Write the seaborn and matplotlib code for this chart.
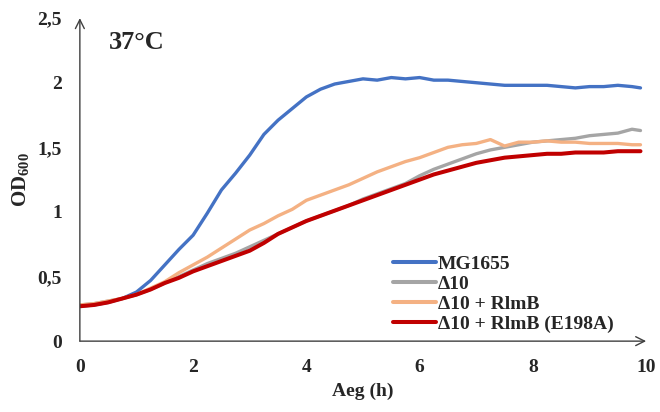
import numpy as np
import pandas as pd
import matplotlib.pyplot as plt
import seaborn as sns
from matplotlib.ticker import FuncFormatter

# time points (h)
time_h = [0, 0.25, 0.5, 0.75, 1.0, 1.25, 1.5, 1.75, 2.0, 2.25, 2.5, 2.75, 3.0, 3.25,
          3.5, 3.75, 4.0, 4.25, 4.5, 4.75, 5.0, 5.25, 5.5, 5.75, 6.0, 6.25, 6.5,
          6.75, 7.0, 7.25, 7.5, 7.75, 8.0, 8.25, 8.5, 8.75, 9.0, 9.25, 9.5, 9.75, 9.9]

mg1655 = [0.27, 0.28, 0.30, 0.33, 0.38, 0.47, 0.59, 0.71, 0.82, 0.99, 1.17, 1.30, 1.44, 1.60,
          1.71, 1.80, 1.89, 1.95, 1.99, 2.01, 2.03, 2.02, 2.04, 2.03, 2.04, 2.02, 2.02,
          2.01, 2.00, 1.99, 1.98, 1.98, 1.98, 1.98, 1.97, 1.96, 1.97, 1.97, 1.98, 1.97, 1.96]
d10 = [0.28, 0.29, 0.31, 0.33, 0.36, 0.40, 0.45, 0.50, 0.55, 0.60, 0.64, 0.68, 0.73, 0.78,
       0.83, 0.88, 0.93, 0.97, 1.01, 1.05, 1.10, 1.14, 1.18, 1.22, 1.28, 1.33, 1.37,
       1.41, 1.45, 1.48, 1.50, 1.52, 1.54, 1.55, 1.56, 1.57, 1.59, 1.60, 1.61, 1.64, 1.63]
d10_rlmb = [0.28, 0.29, 0.31, 0.33, 0.36, 0.41, 0.46, 0.53, 0.59, 0.65, 0.72, 0.79, 0.86, 0.91,
            0.97, 1.02, 1.09, 1.13, 1.17, 1.21, 1.26, 1.31, 1.35, 1.39, 1.42, 1.46, 1.50,
            1.52, 1.53, 1.56, 1.51, 1.54, 1.54, 1.55, 1.54, 1.54, 1.53, 1.53, 1.53, 1.52, 1.52]
d10_e198a = [0.27, 0.28, 0.30, 0.33, 0.36, 0.40, 0.45, 0.49, 0.54, 0.58, 0.62, 0.66, 0.70, 0.76,
             0.83, 0.88, 0.93, 0.97, 1.01, 1.05, 1.09, 1.13, 1.17, 1.21, 1.25, 1.29, 1.32,
             1.35, 1.38, 1.40, 1.42, 1.43, 1.44, 1.45, 1.45, 1.46, 1.46, 1.46, 1.47, 1.47, 1.47]

labels = ["MG1655", "Δ10", "Δ10 + RlmB", "Δ10 + RlmB (E198A)"]
colors = ["#4472C4", "#A5A5A5", "#F4B183", "#C00000"]

df = pd.concat([
    pd.DataFrame({"t": time_h, "od": vals, "strain": lab})
    for lab, vals in zip(labels, [mg1655, d10, d10_rlmb, d10_e198a])
])

sns.set_style("white")
plt.rcParams["font.family"] = ["Liberation Serif", "DejaVu Serif"]
plt.rcParams["font.weight"] = "bold"
plt.rcParams["mathtext.fontset"] = "custom"
plt.rcParams["mathtext.rm"] = "Liberation Serif:bold"

fig = plt.figure(figsize=(6.6, 4.12), dpi=100)
ax = fig.add_axes([0.121, 0.172, 0.858, 0.784])

sns.lineplot(data=df, x="t", y="od", hue="strain", palette=colors, ax=ax,
             linewidth=2.4, legend=False)
# red on top a bit thicker
ax.lines[3].set_linewidth(2.9)

ax.set_xlim(0, 10)
ax.set_ylim(0, 2.5)
ax.set_xticks([0, 2, 4, 6, 8, 10])
ax.set_yticks([0, 0.5, 1, 1.5, 2, 2.5])
ax.yaxis.set_major_formatter(FuncFormatter(lambda v, p: f"{v:g}".replace(".", ",")))
ax.tick_params(axis="x", length=0, pad=13, labelsize=14)
ax.tick_params(axis="y", length=0, pad=13, labelsize=14)
for lab in ax.get_xticklabels() + ax.get_yticklabels():
    lab.set_fontweight("bold")

for s in ax.spines.values():
    s.set_visible(False)
arrow = dict(arrowstyle="->", color="#404040", lw=1, mutation_scale=16, shrinkA=0, shrinkB=0)
ax.annotate("", xy=(1, 0), xytext=(0, 0), xycoords="axes fraction", arrowprops=arrow)
ax.annotate("", xy=(0, 1), xytext=(0, 0), xycoords="axes fraction", arrowprops=arrow)

ax.set_xlabel("Aeg (h)", fontsize=14, fontweight="bold", labelpad=5)
ax.set_ylabel(r"OD$_{\mathregular{600}}$", fontsize=15, fontweight="bold", labelpad=4)
ax.text(0.052, 0.925, "37°C", transform=ax.transAxes, fontsize=19, fontweight="bold",
        va="center", ha="left")

handles = [plt.Line2D([], [], color=c, lw=2.9) for c in colors]
ax.legend(handles, labels, loc="lower left", bbox_to_anchor=(0.553, 0.025), frameon=False,
          prop={"weight": "bold", "size": 14}, handlelength=2.2,
          handletextpad=0.1, labelspacing=0.13, borderaxespad=0, borderpad=0)

fig.savefig("out.png", dpi=100)
